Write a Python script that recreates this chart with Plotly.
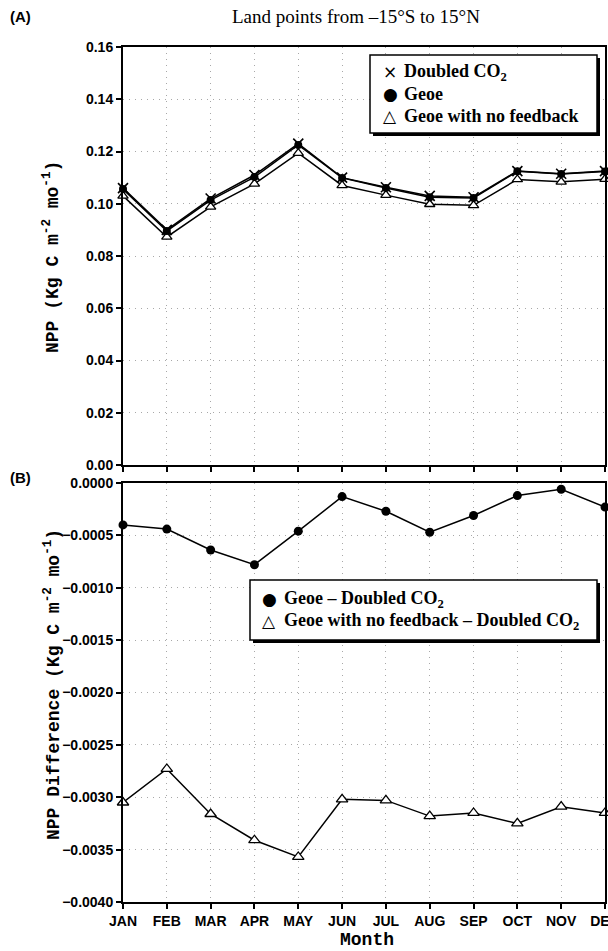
import plotly.graph_objects as go

months = ["JAN", "FEB", "MAR", "APR", "MAY", "JUN", "JUL", "AUG", "SEP", "OCT", "NOV", "DEC"]

# Panel A: NPP (Kg C m-2 mo-1)
npp_doubled = [0.1060, 0.0900, 0.1020, 0.1110, 0.1230, 0.1100, 0.1063, 0.1030, 0.1025, 0.1125, 0.1115, 0.1125]
npp_geoe = [0.1056, 0.0896, 0.1014, 0.1102, 0.1225, 0.1099, 0.1060, 0.1025, 0.1022, 0.1124, 0.1114, 0.1123]
npp_geoe_nofb = [0.1030, 0.0873, 0.0988, 0.1076, 0.1194, 0.1070, 0.1033, 0.0998, 0.0994, 0.1093, 0.1084, 0.1094]

# Panel B: NPP difference
diff_geoe = [-0.00040, -0.00044, -0.00064, -0.00078, -0.00046, -0.00013, -0.00027, -0.00047, -0.00031, -0.00012, -0.00006, -0.00023]
diff_geoe_nofb = [-0.00305, -0.00273, -0.00316, -0.00341, -0.00357, -0.00302, -0.00303, -0.00318, -0.00315, -0.00325, -0.00309, -0.00315]

legend_a = [("×", "Doubled CO<sub>2</sub>"), ("●", "Geoe"), ("△", "Geoe with no feedback")]
legend_b = [("●", "Geoe – Doubled CO<sub>2</sub>"), ("△", "Geoe with no feedback – Doubled CO<sub>2</sub>")]

W, H = 608, 951
ML, MR, MT, MB = 123, 3, 47, 49
PW, PH = W - ML - MR, H - MT - MB

def px(p):
    return (p - ML) / PW

def py(p):
    return (H - MB - p) / PH

fig = go.Figure()
line = dict(color="black", width=1.5)
xi = list(range(len(months)))

fig.add_trace(go.Scatter(x=xi, y=npp_geoe_nofb, mode="lines+markers", line=line, name="Geoe with no feedback",
                         marker=dict(symbol="triangle-up", size=9, color="white", line=dict(color="black", width=1.3)),
                         showlegend=False, xaxis="x", yaxis="y", cliponaxis=False))
fig.add_trace(go.Scatter(x=xi, y=npp_doubled, mode="lines+markers", line=line, name="Doubled CO2",
                         marker=dict(symbol="x-thin", size=10, color="black", line=dict(color="black", width=1.6)),
                         showlegend=False, xaxis="x", yaxis="y", cliponaxis=False))
fig.add_trace(go.Scatter(x=xi, y=npp_geoe, mode="lines+markers", line=line, name="Geoe",
                         marker=dict(symbol="circle", size=8, color="black"),
                         showlegend=False, xaxis="x", yaxis="y", cliponaxis=False))
fig.add_trace(go.Scatter(x=xi, y=diff_geoe, mode="lines+markers", line=line, name="Geoe - Doubled CO2",
                         marker=dict(symbol="circle", size=9, color="black"),
                         showlegend=False, xaxis="x2", yaxis="y2", cliponaxis=False))
fig.add_trace(go.Scatter(x=xi, y=diff_geoe_nofb, mode="lines+markers", line=line, name="Geoe no feedback - Doubled CO2",
                         marker=dict(symbol="triangle-up", size=10, color="white", line=dict(color="black", width=1.3)),
                         showlegend=False, xaxis="x2", yaxis="y2", cliponaxis=False))

ytickfont = dict(family="Liberation Sans, Arial", size=14, color="black", weight="bold")
xtickfont = dict(family="Liberation Sans Narrow, Liberation Sans, Arial", size=14, color="black", weight="bold")
monofont = dict(family="Liberation Mono, Courier New, monospace", size=18, color="black", weight="bold")
serif = "Liberation Serif, Times New Roman, serif"
grid = dict(showgrid=True, gridcolor="#a8a8a8", griddash="1px,5px", gridwidth=1)
axline = dict(showline=True, linecolor="black", linewidth=2, mirror=True, zeroline=False, automargin=False)
ticks = dict(ticks="outside", ticklen=5, tickwidth=1.5, tickcolor="black")

fig.update_layout(
    width=W, height=H,
    margin=dict(l=ML, r=MR, t=MT, b=MB, autoexpand=False),
    paper_bgcolor="white", plot_bgcolor="white",
    showlegend=False,
    xaxis=dict(domain=[0, 1], anchor="y", range=[0, 11], tickmode="array", tickvals=xi,
               ticktext=[""] * 12, **ticks, **grid, **axline),
    yaxis=dict(domain=[py(465), py(47)], anchor="x", range=[0, 0.16], dtick=0.02, tickformat=".2f",
               tickfont=ytickfont, **ticks, **grid, **axline),
    xaxis2=dict(domain=[0, 1], anchor="y2", range=[0, 11], tickmode="array", tickvals=xi,
                ticktext=months, tickfont=xtickfont, ticklabeloverflow="allow", **ticks, **grid, **axline),
    yaxis2=dict(domain=[py(902), py(483)], anchor="x2", range=[-0.004, 0], dtick=0.0005, tickformat=".4f",
                tickfont=ytickfont, **ticks, **grid, **axline),
)

shapes = []
annotations = []

def add_legend(x0, x1, y0, y1, rows, row_y, sym_x, text_x):
    shapes.append(dict(type="rect", xref="paper", yref="paper", x0=px(x0 + 3), x1=px(x1 + 3),
                       y0=py(y1 + 3), y1=py(y0 + 3), fillcolor="black", line=dict(width=0), layer="above"))
    shapes.append(dict(type="rect", xref="paper", yref="paper", x0=px(x0), x1=px(x1),
                       y0=py(y1), y1=py(y0), fillcolor="white", line=dict(color="black", width=1.5), layer="above"))
    for (sym, txt), yy in zip(rows, row_y):
        annotations.append(dict(text=sym, x=px(sym_x), y=py(yy), xref="paper", yref="paper", showarrow=False,
                                xanchor="center", yanchor="middle",
                                font=dict(family="DejaVu Sans, Liberation Sans", size=17, color="black")))
        annotations.append(dict(text=txt, x=px(text_x), y=py(yy), xref="paper", yref="paper", showarrow=False,
                                xanchor="left", yanchor="middle",
                                font=dict(family=serif, size=18, color="black", weight="bold")))

add_legend(370, 597, 55, 133, legend_a, [72, 94, 116], 390, 402)
add_legend(250, 597, 580, 640, legend_b, [599, 621], 269, 282)

annotations += [
    dict(text="Land points from –15°S to 15°N", x=px(356), y=py(16), xref="paper", yref="paper",
         showarrow=False, xanchor="center", yanchor="middle",
         font=dict(family=serif, size=19, color="black")),
    dict(text="<b>(A)</b>", x=px(8), y=py(17), xref="paper", yref="paper", showarrow=False,
         xanchor="left", yanchor="middle", font=dict(family="Liberation Sans, Arial", size=15, color="black")),
    dict(text="<b>(B)</b>", x=px(8), y=py(478), xref="paper", yref="paper", showarrow=False,
         xanchor="left", yanchor="middle", font=dict(family="Liberation Sans, Arial", size=15, color="black")),
    dict(text="NPP (Kg C m<sup>-2</sup> mo<sup>-1</sup>)", x=px(51), y=py(257), xref="paper", yref="paper",
         showarrow=False, textangle=-90, xanchor="center", yanchor="middle", font=monofont),
    dict(text="NPP Difference (Kg C m<sup>-2</sup> mo<sup>-1</sup>)", x=px(52), y=py(685), xref="paper", yref="paper",
         showarrow=False, textangle=-90, xanchor="center", yanchor="middle", font=monofont),
    dict(text="Month", x=px(367), y=py(940), xref="paper", yref="paper",
         showarrow=False, xanchor="center", yanchor="middle", font=monofont),
]

fig.update_layout(shapes=shapes, annotations=annotations)

fig.write_html("out.html", config={"displayModeBar": False},
               post_script="document.body.style.margin='0';document.body.style.overflow='hidden';")
